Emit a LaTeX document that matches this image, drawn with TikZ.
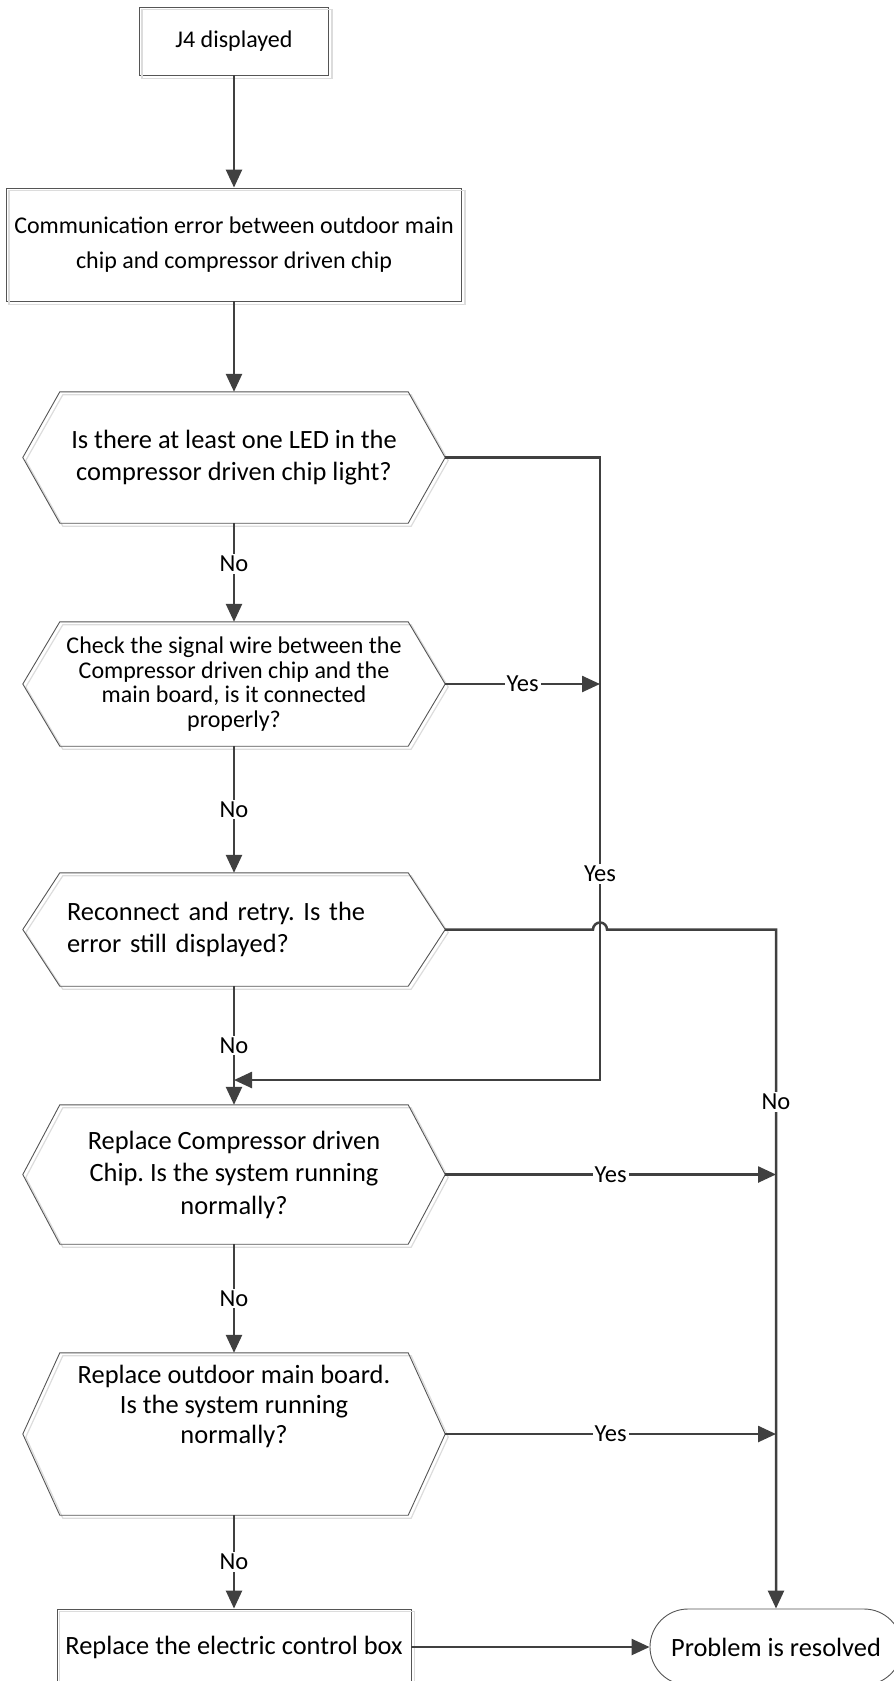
\documentclass[tikz,border=0pt]{standalone}
\usepackage{fontspec}
\setmainfont{Carlito}
\usetikzlibrary{arrows.meta,shapes.misc}
\definecolor{lnc}{HTML}{404040}
\definecolor{brd}{HTML}{555555}
\definecolor{shd}{HTML}{DCDCDC}
\frenchspacing
\newcommand\fs[2]{\fontsize{#1}{#2}\selectfont}
\newcommand\hexdraw[1]{%
  \draw[shd, line width=1.2pt, transform canvas={xshift=3pt,yshift=-3pt}]
    ([xshift=37pt]#1.north west) -- ([xshift=-37pt]#1.north east) -- (#1.east)
    -- ([xshift=-37pt]#1.south east) -- ([xshift=37pt]#1.south west) -- (#1.west) -- cycle;
  \draw[brd, line width=0.9pt]
    ([xshift=37pt]#1.north west) -- ([xshift=-37pt]#1.north east) -- (#1.east)
    -- ([xshift=-37pt]#1.south east) -- ([xshift=37pt]#1.south west) -- (#1.west) -- cycle;}
\newcommand\boxshadow[1]{%
  \draw[shd, line width=1.2pt, transform canvas={xshift=3pt,yshift=-3pt}]
    (#1.north west) rectangle (#1.south east);}
\begin{document}
\begin{tikzpicture}[x=1pt,y=-1pt,
  hex/.style={minimum width=422pt, minimum height=#1, inner sep=0pt, align=center},
  box/.style={draw=brd, line width=0.9pt, inner sep=0pt, align=center},
  conn/.style={draw=lnc, line width=2.5pt, -{Triangle[length=18pt,width=16pt]}},
  lbl/.style={fill=white, inner sep=2pt, font=\fs{24.5}{29}, text=black}]
\useasboundingbox (0,0) rectangle (894,1681);
\coordinate (busA) at (600,0);
\coordinate (busB) at (776,0);
\coordinate (merge) at (234,1080);

\node[box, minimum width=189pt, minimum height=68pt, font=\fs{24}{29}] (j4) at (234,41) {J4 displayed};
\node[box, minimum width=455pt, minimum height=113pt, font=\fs{24}{35}] (comm) at (234,244.5)
  {Communication error between outdoor main\\chip and compressor driven chip};
\node[hex=131pt, font=\fs{26.4}{32}] (h1) at (234,457.5)
  {Is there at least one LED in the\\compressor driven chip light?};
\node[hex=124pt, font=\fs{24}{24.7}] (h2) at (234,684)
  {Check the signal wire between the\\Compressor driven chip and the\\main board, is it connected\\properly?};
\node[hex=113pt, font=\fs{26.4}{32}, text width=334pt, align=left] (h3) at (234,929.5)
  {Reconnect and retry. Is the\\error still displayed?};
\node[hex=139pt, font=\fs{26.4}{32.5}] (h4) at (234,1174.5)
  {Replace Compressor driven\\Chip. Is the system running\\normally?};
\node[hex=162pt, font=\fs{26.4}{30}] (h5) at (234,1434)
  {Replace outdoor main board.\\Is the system running\\normally?\\\mbox{}\\\mbox{}};
\node[box, minimum width=354pt, minimum height=76pt, font=\fs{26.4}{32}] (ebox) at (234,1647)
  {Replace the electric control box};
\node[draw=brd, line width=0.9pt, rounded rectangle, inner sep=0pt, minimum width=252pt, minimum height=76pt,
  font=\fs{26.4}{32}] (term) at (776,1647) {Problem is resolved};

\boxshadow{j4}
\boxshadow{comm}
\boxshadow{ebox}
\hexdraw{h1}
\hexdraw{h2}
\hexdraw{h3}
\hexdraw{h4}
\hexdraw{h5}

\draw[conn] (j4) -- (comm);
\draw[conn] (comm) -- (h1);
\draw[conn] (h1) -- node[lbl, pos=0.41]{No} (h2);
\draw[conn] (h2) -- node[lbl]{No} (h3);
\draw[conn] (h3) -- node[lbl]{No} (h4);
\draw[conn] (h4) -- node[lbl]{No} (h5);
\draw[conn] (h5) -- node[lbl]{No} (ebox);
\draw[conn] (ebox) -- (term);

\draw[conn] (h1.east) -- (h1.east -| busA) -- node[lbl, pos=0.669]{Yes} (busA |- merge) -- (merge);
\draw[conn] (h2.east) -- node[lbl]{Yes} (h2.east -| busA);
\draw[conn] (h3.east) -- ([xshift=-7pt]h3.east -| busA) arc[start angle=180, end angle=0, radius=7pt]
  -- (h3.east -| busB) -- node[lbl, pos=0.254]{No} (term.north);
\draw[conn] (h4.east) -- node[lbl]{Yes} (h4.east -| busB);
\draw[conn] (h5.east) -- node[lbl]{Yes} (h5.east -| busB);
\end{tikzpicture}
\end{document}
